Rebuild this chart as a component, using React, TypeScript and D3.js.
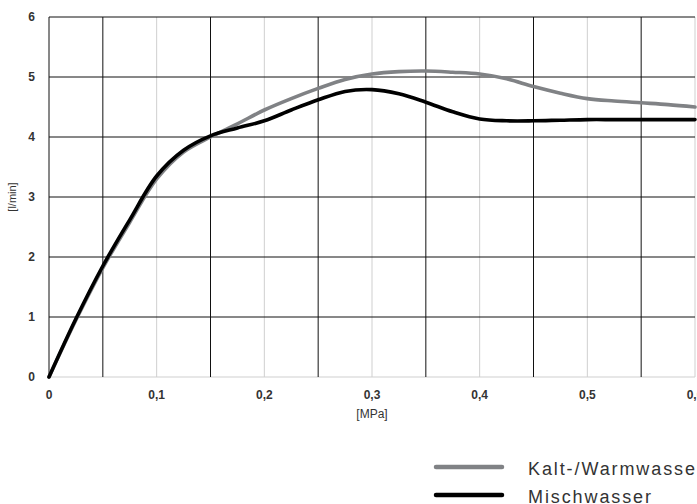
import React from "react";
import * as d3 from "d3";

const pressure = [0, 0.025, 0.05, 0.075, 0.1, 0.125, 0.15, 0.175, 0.2, 0.225, 0.25, 0.275, 0.3, 0.325, 0.35, 0.375, 0.4, 0.425, 0.45, 0.475, 0.5, 0.525, 0.55, 0.575, 0.6];
const kaltWarm = [0, 0.95, 1.82, 2.58, 3.3, 3.75, 4.0, 4.22, 4.45, 4.64, 4.81, 4.96, 5.05, 5.09, 5.1, 5.08, 5.05, 4.97, 4.84, 4.73, 4.64, 4.6, 4.57, 4.54, 4.5];
const misch = [0, 0.97, 1.85, 2.62, 3.35, 3.78, 4.02, 4.15, 4.27, 4.45, 4.62, 4.76, 4.79, 4.72, 4.58, 4.42, 4.3, 4.27, 4.27, 4.28, 4.29, 4.29, 4.29, 4.29, 4.29];
const xTickLabels = ["0", "0,1", "0,2", "0,3", "0,4", "0,5", "0,6"];
const xTicks = [0, 0.1, 0.2, 0.3, 0.4, 0.5, 0.6];
const xMidLines = [0.05, 0.15, 0.25, 0.35, 0.45, 0.55];
const yTicks = [0, 1, 2, 3, 4, 5, 6];
const seriesNames = ["Kalt-/Warmwasser", "Mischwasser"];

export default function App() {
  const W = 697, H = 504;
  const x = d3.scaleLinear().domain([0, 0.6]).range([49, 695]);
  const y = d3.scaleLinear().domain([0, 6]).range([377, 17]);
  const line = d3
    .line<number>()
    .x((_, i) => x(pressure[i]))
    .y((d) => y(d))
    .curve(d3.curveCatmullRom.alpha(0.5));
  const font = "'Liberation Sans', Arial, sans-serif";
  const series = [
    { name: seriesNames[0], values: kaltWarm, color: "#808285" },
    { name: seriesNames[1], values: misch, color: "#000000" },
  ];
  return (
    <svg width={W} height={H} style={{ position: "absolute", left: 0, top: 0, background: "#fff" }} fontFamily={font}>
      {xTicks.slice(1).map((t) => (
        <line key={"gv" + t} x1={x(t)} x2={x(t)} y1={y(6)} y2={y(0)} stroke="#cfcfcf" strokeWidth={1} />
      ))}
      <line x1={x(0)} x2={x(0.6)} y1={y(0)} y2={y(0)} stroke="#cfcfcf" strokeWidth={1} />
      {yTicks.slice(1).map((t) => (
        <line key={"h" + t} x1={x(0)} x2={x(0.6)} y1={y(t)} y2={y(t)} stroke="#111" strokeWidth={1} />
      ))}
      {xMidLines.map((t) => (
        <line key={"bv" + t} x1={x(t)} x2={x(t)} y1={y(6)} y2={y(0)} stroke="#111" strokeWidth={1} />
      ))}
      <line x1={x(0)} x2={x(0)} y1={y(6)} y2={y(0)} stroke="#111" strokeWidth={1} />

      {series.map((s) => (
        <path key={s.name} d={line(s.values) || ""} fill="none" stroke={s.color} strokeWidth={3.6} strokeLinejoin="round" strokeLinecap="round" />
      ))}

      {yTicks.map((t) => (
        <text key={"yl" + t} x={35} y={y(t)} dy="0.36em" textAnchor="end" fontSize={12} fontWeight="bold" fill="#333">
          {t}
        </text>
      ))}
      {xTicks.map((t, i) => (
        <text key={"xl" + t} x={x(t)} y={399} textAnchor="middle" fontSize={12} fontWeight="bold" fill="#333">
          {xTickLabels[i]}
        </text>
      ))}
      <text x={x(0.3)} y={418} textAnchor="middle" fontSize={12} fill="#333">[MPa]</text>
      <text transform={`translate(16,${y(3)}) rotate(-90)`} textAnchor="middle" fontSize={11} fill="#333">[l/min]</text>

      {series.map((s, i) => (
        <g key={"lg" + i} transform={`translate(0,${467 + i * 28})`}>
          <line x1={436} x2={502} y1={0} y2={0} stroke={s.color} strokeWidth={4.5} strokeLinecap="round" />
          <text x={528} y={8} fontSize={18} letterSpacing={1.9} fill="#333">{s.name}</text>
        </g>
      ))}
    </svg>
  );
}
